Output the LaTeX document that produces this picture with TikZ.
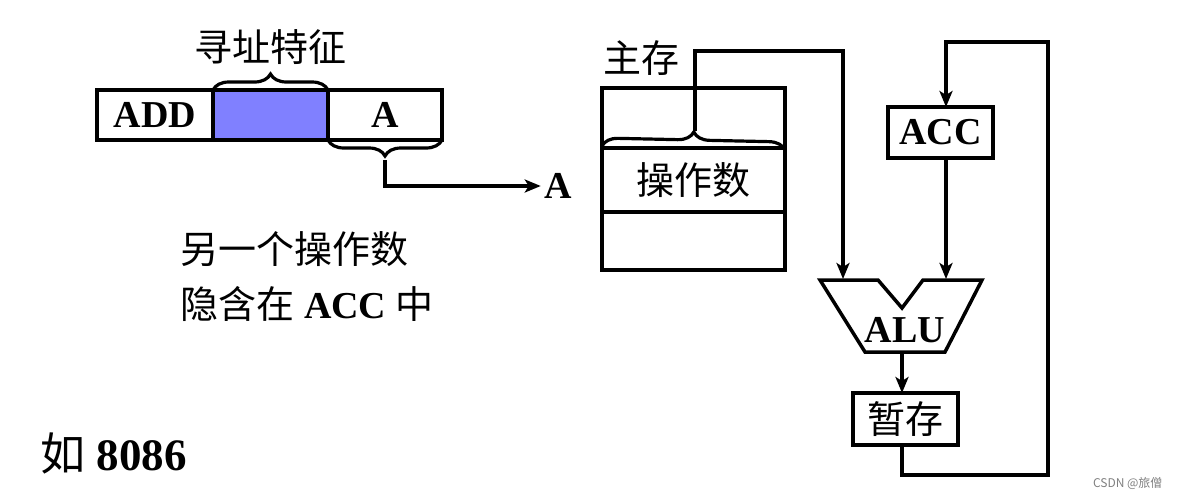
\documentclass[tikz,border=0pt]{standalone}
\usepackage{fontspec}
\setmainfont{Liberation Serif}
\newfontfamily\cjk{Noto Sans CJK SC}
\usetikzlibrary{arrows.meta,decorations.pathreplacing}
\begin{document}
\begin{tikzpicture}[x=1pt,y=-1pt,line join=miter,
  box/.style={draw,line width=3.5pt,inner sep=0pt,outer sep=0pt},
  lat/.style={font=\fontsize{38}{42}\selectfont\bfseries},
  zh/.style={font=\fontsize{38}{42}\selectfont\cjk},
  wire/.style={line width=3.2pt},
  arr/.style={wire,-{Stealth[length=16pt,width=13pt,inset=4pt]}},
  brc/.style={decorate,decoration={brace,amplitude=16pt},line width=3.2pt}]
\useasboundingbox (0,0) rectangle (1180,498);
% instruction
\node[box,lat,minimum width=116pt,minimum height=50pt] (add) at (155,115) {ADD};
\node[box,fill={rgb,255:red,128;green,128;blue,255},minimum width=115pt,minimum height=50pt] (mode) at (270.5,115) {};
\node[box,lat,minimum width=114pt,minimum height=50pt] (addr) at (385,115) {A};
\draw[brc] (mode.north west) -- (mode.north east);
\node[zh] (lbl) at (270,47) {寻址特征};
\draw[brc] (addr.south east) -- (addr.south west);
\coordinate (btip) at (385,160);
\node[lat] (alab) at (558,186) {A};
\draw[arr] (btip) |- (alab.west);
% memory
\node[box,minimum width=183pt,minimum height=60pt] (m1) at (693.5,118) {};
\node[box,zh,minimum width=183pt,minimum height=64pt] (m2) at (693.5,180) {操作数};
\node[box,minimum width=183pt,minimum height=58pt] (m3) at (693.5,241) {};
\node[zh] (zc) at (641,58) {主存};
\draw[brc] (m2.north west) ++(0,-2) -- ([yshift=-2pt]m2.north east);
% ALU
\draw[line width=3.5pt] (820,280) -- (878,280) -- (902,308) -- (923,280) -- (982,280) -- (945,352) -- (865,352) -- cycle;
\node[lat] (alu) at (905,330) {ALU};
\coordinate (aluL) at (843,279);
\coordinate (aluR) at (946,279);
\coordinate (aluB) at (902,352);
\coordinate (mtip) at (695,131);
\draw[arr] (mtip) -- (695,51) -| (aluL);
% ACC and temp
\node[box,lat,minimum width=105pt,minimum height=51pt] (acc) at (940.5,132.5) {ACC};
\node[box,zh,minimum width=105pt,minimum height=52pt] (tmp) at (905.5,419) {暂存};
\draw[arr] (acc.south -| aluR) -- (aluR);
\draw[arr] (aluB) -- (tmp.north -| aluB);
\draw[arr] (tmp.south -| aluB) -- (902,475) -- (1048,475) -- (1048,42) -- (946,42) -- (acc.north -| aluR);
% left texts
\node[zh,anchor=west] (t1) at (177,249) {另一个操作数};
\node[anchor=west,font=\fontsize{38}{42}\selectfont] (t2) at (177,304) {{\cjk 隐含在} \textbf{ACC} {\cjk 中}};
\node[anchor=west,font=\fontsize{45}{50}\selectfont] (t3) at (37,453) {{\cjk 如} \textbf{8086}};
\node[anchor=east,text=gray,font=\fontsize{12}{14}\selectfont\cjk] (wm) at (1166,483) {CSDN @旅僧};
\end{tikzpicture}
\end{document}
